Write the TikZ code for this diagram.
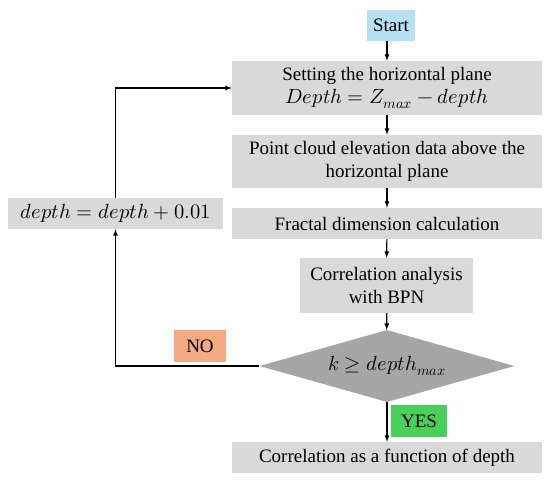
\documentclass[tikz,border=0pt]{standalone}
\usepackage{fontspec}
\usepackage{unicode-math}
\setmainfont{Liberation Serif}
\setmathfont{Latin Modern Math}[Scale=1.08]
\usetikzlibrary{shapes.geometric}

\definecolor{startblue}{RGB}{183,224,242}
\definecolor{boxgray}{RGB}{217,217,217}
\definecolor{decgray}{RGB}{166,166,166}
\definecolor{nosalmon}{RGB}{243,170,130}
\definecolor{yesgreen}{RGB}{72,208,88}

\tikzset{
  stepbox/.style={fill=boxgray,minimum height=31pt,inner sep=2pt,align=center,
    font=\fontsize{19}{23}\selectfont},
  tagbox/.style={minimum height=32pt,inner sep=2pt,font=\fontsize{19}{23}\selectfont},
  flow/.style={->,line width=1.2pt}
}

\begin{document}
\begin{tikzpicture}[x=1pt,y=-1pt,>=latex]
        \useasboundingbox (0,0) rectangle (550,480);

        % draw the main column
        \node[stepbox,fill=startblue,minimum width=48pt] (start) at (391,25.5) {Start};
        \node[stepbox,minimum width=310pt,minimum height=54pt] (plane) at (387,88)
            {Setting the horizontal plane\\$Depth=Z_{max}-depth$};
        \node[stepbox,minimum width=310pt,minimum height=53pt] (cloud) at (387,161.5)
            {Point cloud elevation data above the\\horizontal plane};
        \node[stepbox,minimum width=310pt] (fractal) at (387,223.5) {Fractal dimension calculation};
        \node[stepbox,minimum width=173pt,minimum height=55pt] (bpn) at (386.5,285.5)
            {Correlation analysis\\with BPN};
        \node[diamond,fill=decgray,minimum width=255pt,minimum height=72pt,aspect=3.5,inner sep=0pt,
            font=\fontsize{19}{23}\selectfont] (check) at (387,366) {$k\geq depth_{max}$};
        \node[stepbox,minimum width=310pt] (result) at (387,457.5) {Correlation as a function of depth};

        % draw the loop box and the tags
        \node[stepbox,minimum width=215pt] (incr) at (115.5,213.5) {$depth=depth+0.01$};
        \node[tagbox,fill=nosalmon,minimum width=52pt] (no) at (200,346) {NO};
        \node[tagbox,fill=yesgreen,minimum width=56pt] (yes) at (419,421) {YES};

        % draw the arrows
        \draw[flow] (start.south -| plane.north) -- (plane.north);
        \draw[flow] (plane) -- (cloud);
        \draw[flow] (cloud) -- (fractal);
        \draw[flow] (fractal) -- (bpn);
        \draw[flow] (bpn) -- (check);
        \draw[flow] (check) -- (result);
        \draw[flow] (check.west) -| (incr.south);
        \draw[flow] (incr.north) |- (plane.west);
\end{tikzpicture}
\end{document}
